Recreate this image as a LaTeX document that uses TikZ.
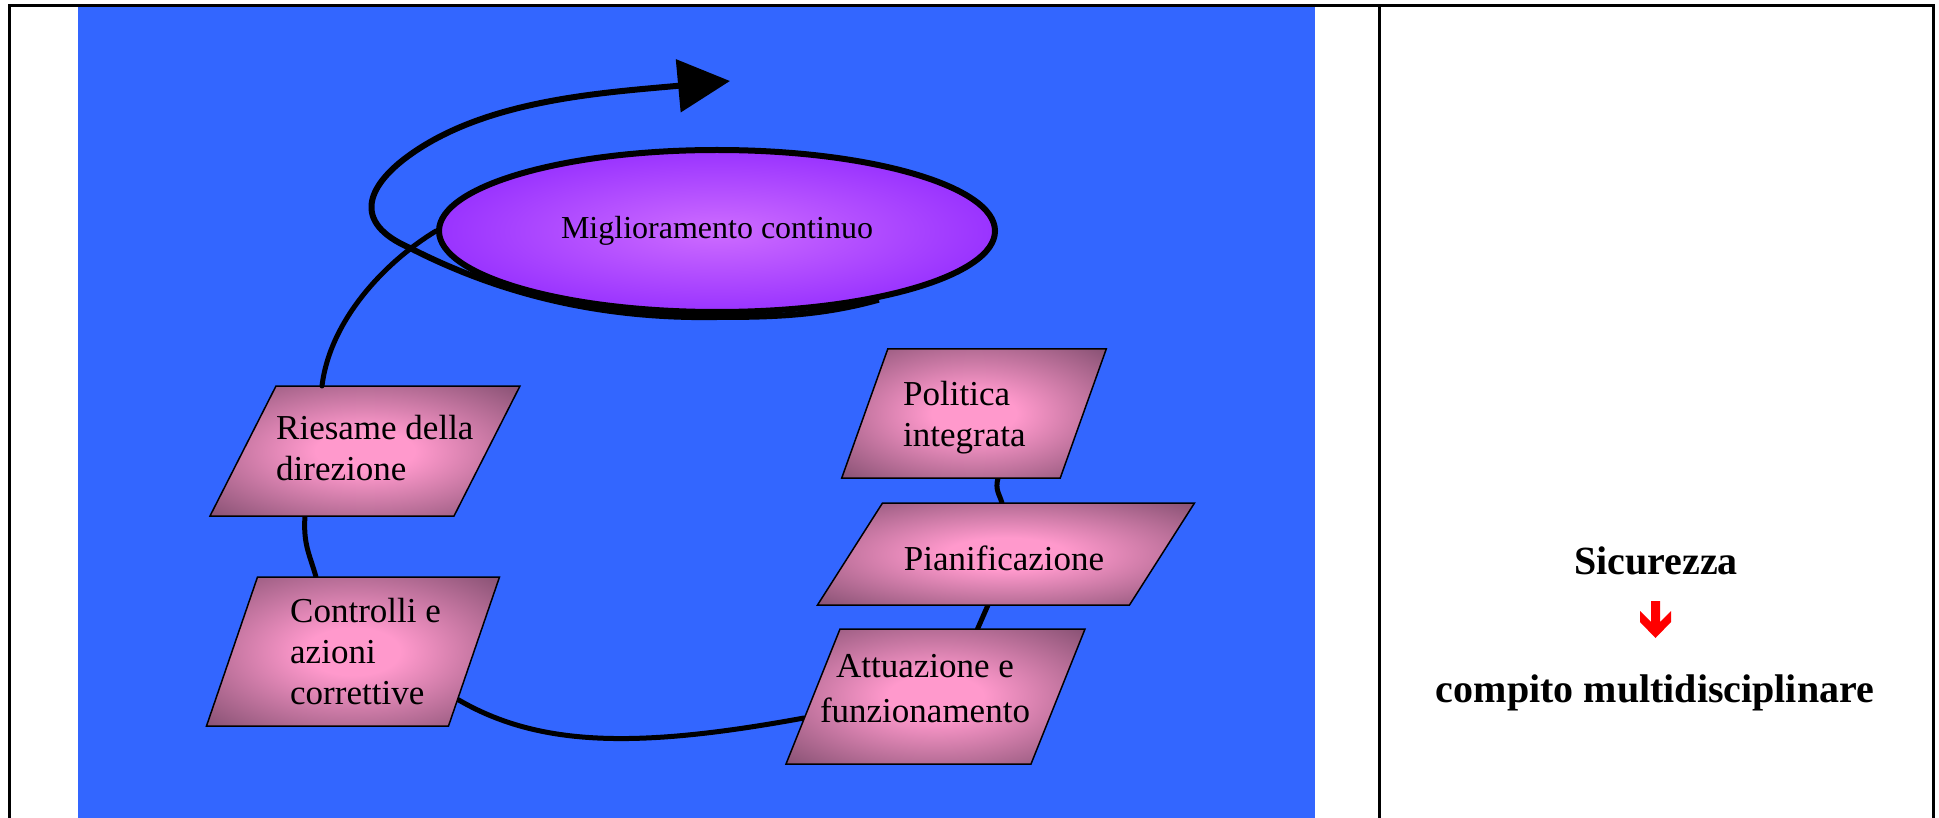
\documentclass[tikz,border=0pt]{standalone}
\usepackage{fontspec}
\setmainfont{Liberation Serif}
\usetikzlibrary{shapes.geometric,arrows.meta,calc}
\definecolor{bluebg}{RGB}{51,102,255}
\definecolor{pinkc}{RGB}{255,153,204}
\definecolor{mauvec}{RGB}{120,72,104}
\definecolor{violin}{RGB}{206,108,255}
\definecolor{violout}{RGB}{153,51,255}
\definecolor{redarr}{RGB}{255,0,0}
\pgfdeclareradialshading{parashade}{\pgfpoint{0bp}{0bp}}{color(0bp)=(pinkc); color(8bp)=(pinkc); color(39bp)=(mauvec); color(100bp)=(mauvec)}
\newcommand\paragram[2]{\path[shade, shading=parashade, draw=black, line width=1.5pt]
  ([xshift=#2]#1.north west) -- ([xshift=#2]#1.north east) --
  ([xshift=-#2]#1.south east) -- ([xshift=-#2]#1.south west) -- cycle;}
\tikzset{
  pbox/.style={rectangle, inner sep=0pt, outer sep=0pt},
  lbl/.style={inner sep=0pt, font=\fontsize{35}{41}\selectfont},
  conn/.style={line width=5pt, line cap=round, draw=black},
  spiral/.style={line width=6pt, draw=black, -{Triangle[length=52pt,width=52pt]}},
  bold40/.style={inner sep=0pt, anchor=base, font=\fontsize{40}{48}\selectfont\bfseries}
}
\begin{document}
\begin{tikzpicture}[x=1pt,y=-1pt]
\useasboundingbox (0,0) rectangle (1939,818);
% blue panel
\fill[bluebg] (78,7) rectangle (1315,818);
% frame
\draw[line width=3pt] (9.5,818) -- (9.5,5.5) -- (1933.5,5.5) -- (1933.5,818);
\draw[line width=2.7pt] (1379.3,5.5) -- (1379.3,818);

% shape holders
\node[pbox, minimum width=244pt, minimum height=130pt] (riesame) at (365,451) {};
\node[pbox, minimum width=242pt, minimum height=149pt] (controlli) at (353,651.5) {};
\node[pbox, minimum width=218.5pt, minimum height=129pt] (politica) at (974,413.5) {};
\node[pbox, minimum width=312pt, minimum height=102pt] (pian) at (1006,554) {};
\node[pbox, minimum width=245pt, minimum height=135pt] (att) at (935.5,696.5) {};

% connectors between the boxes
\draw[conn] ([xshift=24pt]politica.south) .. controls +(-3,12) and +(-3,-10) .. ([xshift=-4pt]pian.north);
\draw[conn] ([xshift=-18pt]pian.south) -- ([xshift=42pt]att.north);
\draw[conn] ([shift={(-17,47.5)}]controlli.east) .. controls (540,748) and (640,748) .. ([shift={(-9,21.5)}]att.west);
\draw[conn] ([xshift=-60pt]riesame.south) .. controls (303,545) and (310,555) .. ([xshift=-37pt]controlli.north);

% parallelograms
\paragram{riesame}{33pt}
\paragram{controlli}{25.5pt}
\paragram{politica}{23pt}
\paragram{pian}{32.5pt}
\paragram{att}{27pt}

% labels
\node[lbl, anchor=base west] (riesame-t) at (276,439) {\begin{tabular}[t]{@{}l@{}}Riesame della\\direzione\end{tabular}};
\node[lbl, anchor=base west] (controlli-t) at (290,622) {\begin{tabular}[t]{@{}l@{}}Controlli e\\azioni\\correttive\end{tabular}};
\node[lbl, anchor=base west] (politica-t) at (903,405) {\begin{tabular}[t]{@{}l@{}}Politica\\integrata\end{tabular}};
\node[lbl, anchor=base] (pian-t) at (1004,570) {Pianificazione};
\node[lbl, anchor=base, font=\fontsize{35}{45}\selectfont] (att-t) at (925,677) {\begin{tabular}[t]{@{}c@{}}Attuazione e\\funzionamento\end{tabular}};

% ellipse
\node[ellipse, draw=black, line width=6pt, minimum width=556pt, minimum height=162pt,
      inner color=violin, outer color=violout, font=\fontsize{32}{38}\selectfont] (migl) at (717,231) {Miglioramento continuo};

% review -> ellipse
\draw[conn] ([xshift=-43pt]riesame.north) .. controls (330,320) and (385,262) .. (migl.west);
% spiral arrow
\coordinate (tip) at (730,81);
\draw[spiral] (migl.-23) .. controls (820,316) and (770,317) .. (717,317)
  .. controls (600,319) and (500,294) .. (410,248)
  .. controls (350,222) and (370,186) .. (403,160)
  .. controls (480,100) and (600,93) .. (tip);

% right panel
\node[bold40] (sic) at (1656,574) {Sicurezza};
\node[bold40] (comp) at (1655,702) {compito multidisciplinare};
\fill[redarr] (1651,601) -- (1660,601) -- (1660,622) -- (1671,611) -- (1671,622) -- (1655.5,638)
  -- (1640,622) -- (1640,611) -- (1651,622) -- cycle;
\end{tikzpicture}
\end{document}
